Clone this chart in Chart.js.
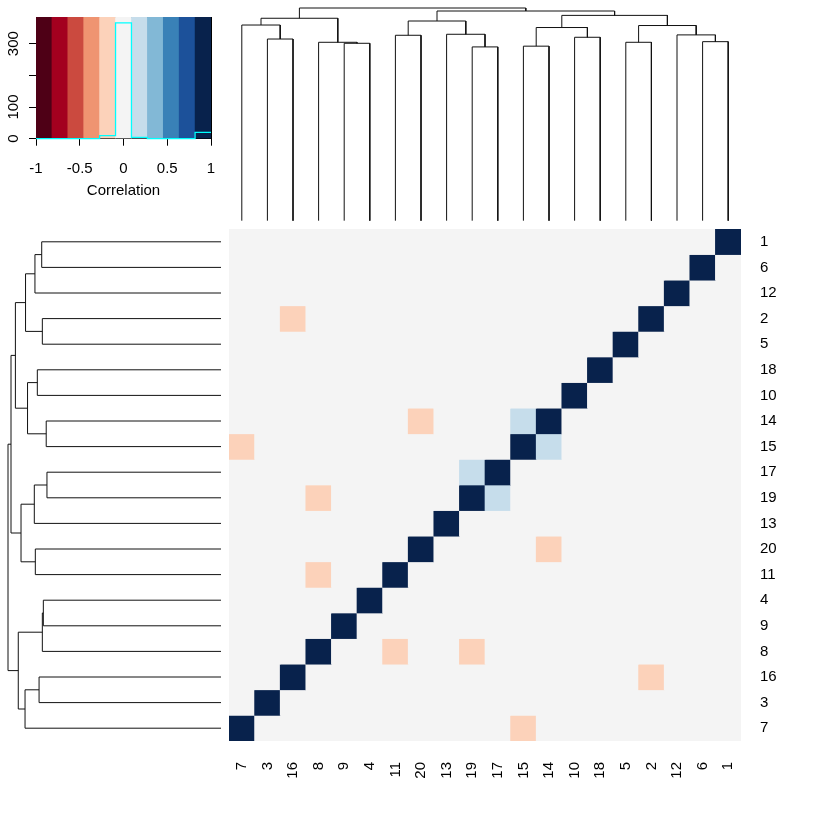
<!DOCTYPE html>
<html><head><meta charset="utf-8">
<script src="https://cdn.jsdelivr.net/npm/chart.js@4.4.0/dist/chart.umd.min.js"></script>
<style>
html,body{margin:0;padding:0;background:#fff;width:840px;height:840px;overflow:hidden}
.box{position:absolute}
</style></head><body>
<div class="box" style="left:0;top:0;width:840px;height:840px"><canvas id="heat"></canvas></div>
<div class="box" style="left:229px;top:0;width:512px;height:222px"><canvas id="colDendro"></canvas></div>
<div class="box" style="left:0;top:229px;width:222px;height:512px"><canvas id="rowDendro"></canvas></div>
<div class="box" style="left:0;top:0;width:225px;height:200px"><canvas id="key"></canvas></div>
<script>
// ---------- data ----------
const colOrder = ['7','3','16','8','9','4','11','20','13','19','17','15','14','10','18','5','2','12','6','1'];
const rowOrder = ['1','6','12','2','5','18','10','14','15','17','19','13','20','11','4','9','8','16','3','7'];

// notable off-diagonal correlations (symmetric); all other off-diagonal cells ~0
const pairFrom = ['2','14','7','8','8','14','17'];
const pairTo   = ['16','20','15','19','11','15','19'];
const pairCorr = [-0.2,-0.2,-0.2,-0.2,-0.2,0.2,0.2];
const diagCorr = 1;
const otherCorr = 0;

// colour key
const keyBreaks = [-1,-0.818,-0.636,-0.455,-0.273,-0.091,0.091,0.273,0.455,0.636,0.818,1];
const keyColors = ['#4E0016','#A3001F','#CB4A3F','#EF9471','#FCD2BA','#F4F4F4','#C6DDEB','#82B8D6','#3981B7','#1C519A','#08224C'];
const histCounts = [0,0,0,0,10,366,4,0,0,0,20];
const keyTicksX = [-1,-0.5,0,0.5,1];
const keyTicksY = [0,100,200,300];
const keyHiddenYLabels = [200];

// hierarchical clustering (hclust style: negative = leaf label, positive = merge step)
const mergeLeft   = [-19,-15,-9,-8,-5,-6,-3,-10,-11,-12,-13, 2, 5,-7, 9,14,12,15,16];
const mergeRight  = [-17,-14,-4, 3,-2,-1,-16,-18,-20, 6, 1, 8,10, 7,11, 4,13,17,18];
const mergeHeight = [1.389,1.395,1.418,1.426,1.426,1.431,1.452,1.466,1.482,1.485,1.490,1.544,1.560,1.564,1.596,1.618,1.641,1.676,1.700];

// ---------- helpers ----------
Chart.defaults.font.family = '"Liberation Sans", Arial, Helvetica, sans-serif';
Chart.defaults.color = '#000';
Chart.defaults.animation = false;
Chart.defaults.plugins.legend.display = false;
Chart.defaults.plugins.tooltip.enabled = false;

function corr(a, b) {
  if (a === b) return diagCorr;
  for (let i = 0; i < pairFrom.length; i++) {
    if ((pairFrom[i] === a && pairTo[i] === b) || (pairFrom[i] === b && pairTo[i] === a)) return pairCorr[i];
  }
  return otherCorr;
}
function colorFor(v) {
  for (let i = 0; i < keyColors.length; i++) {
    if (v <= keyBreaks[i + 1]) return keyColors[i];
  }
  return keyColors[keyColors.length - 1];
}
function nodePos(ref, order) {
  if (ref < 0) return order.indexOf(String(-ref)) + 0.5;
  const j = ref - 1;
  return (nodePos(mergeLeft[j], order) + nodePos(mergeRight[j], order)) / 2;
}
function nodeHeight(ref) { return ref < 0 ? 0 : mergeHeight[ref - 1]; }
function dendroDatasets(order, swap) {
  return mergeHeight.map((h, j) => {
    const pl = nodePos(mergeLeft[j], order), pr = nodePos(mergeRight[j], order);
    const hl = nodeHeight(mergeLeft[j]), hr = nodeHeight(mergeRight[j]);
    const pts = [[pl, hl], [pl, h], [pr, h], [pr, hr]];
    return {
      data: pts.map(([p, v]) => swap ? {x: v, y: p} : {x: p, y: v}),
      showLine: true, borderColor: '#111', borderWidth: 1, pointRadius: 0,
      clip: false, tension: 0, fill: false
    };
  });
}
const maxH = Math.max(...mergeHeight);

// ---------- heatmap ----------
const areaBg = {
  id: 'areaBg',
  beforeDatasetsDraw(chart) {
    const {ctx, chartArea: a} = chart;
    ctx.save(); ctx.fillStyle = keyColors[5];
    ctx.fillRect(a.left, a.top, a.right - a.left, a.bottom - a.top);
    ctx.restore();
  }
};
const labelFont = {size: 15};
new Chart(document.getElementById('heat'), {
  type: 'bar',
  data: {
    labels: colOrder,
    datasets: rowOrder.map(r => ({
      label: r,
      data: colOrder.map(() => 1),
      backgroundColor: colOrder.map(c => colorFor(corr(r, c))),
      borderWidth: 0, barPercentage: 1, categoryPercentage: 1, stack: 's'
    }))
  },
  options: {
    responsive: true, maintainAspectRatio: false,
    layout: {padding: {left: 229, top: 229, right: 0, bottom: 0}},
    scales: {
      x: {type: 'category', stacked: true, offset: true,
          grid: {display: false, drawTicks: false}, border: {display: false},
          ticks: {minRotation: 90, maxRotation: 90, autoSkip: false, padding: 21, font: labelFont},
          afterFit: s => { s.height = 99; }},
      y: {type: 'linear', stacked: true, min: 0, max: 20, reverse: true, display: false},
      yr: {type: 'category', labels: rowOrder, position: 'right', offset: true,
           grid: {display: false, drawTicks: false}, border: {display: false},
           ticks: {autoSkip: false, padding: 19, font: labelFont},
           afterFit: s => { s.width = 99; }}
    }
  },
  plugins: [areaBg]
});

// ---------- column dendrogram ----------
new Chart(document.getElementById('colDendro'), {
  type: 'scatter',
  data: {datasets: dendroDatasets(colOrder, false)},
  options: {
    responsive: true, maintainAspectRatio: false,
    layout: {padding: {top: 8, bottom: 1.3, left: 0, right: 0}},
    scales: {
      x: {type: 'linear', min: 0, max: 20, display: false},
      y: {type: 'linear', min: 0, max: maxH, display: false}
    }
  }
});

// ---------- row dendrogram ----------
new Chart(document.getElementById('rowDendro'), {
  type: 'scatter',
  data: {datasets: dendroDatasets(rowOrder, true)},
  options: {
    responsive: true, maintainAspectRatio: false,
    layout: {padding: {left: 8, right: 1, top: 0, bottom: 0}},
    scales: {
      x: {type: 'linear', min: 0, max: maxH, reverse: true, display: false},
      y: {type: 'linear', min: 0, max: 20, reverse: true, display: false}
    }
  }
});

// ---------- colour key ----------
const keyYMax = Math.max(...histCounts) * 1.05;
const histPoints = histCounts.map((c, i) => ({x: keyBreaks[i], y: c}));
histPoints.push({x: keyBreaks[keyBreaks.length - 1], y: histCounts[histCounts.length - 1]});
const keyBars = keyColors.map((c, i) => ({x: (keyBreaks[i] + keyBreaks[i + 1]) / 2, y: [0, keyYMax]}));
const keyFont = {size: 15};
new Chart(document.getElementById('key'), {
  type: 'bar',
  data: {
    datasets: [
      {type: 'line', data: histPoints, borderColor: '#00FFFF', borderWidth: 1.3, pointRadius: 0,
       stepped: 'before', fill: false, order: 0, clip: false},
      {type: 'bar', data: keyBars, backgroundColor: keyColors, borderWidth: 0,
       barPercentage: 1, categoryPercentage: 1, order: 1}
    ]
  },
  options: {
    responsive: true, maintainAspectRatio: false,
    layout: {padding: {top: 17, right: 14, left: 0, bottom: 0}},
    scales: {
      x: {type: 'linear', min: -1, max: 1, offset: false,
          afterBuildTicks: s => { s.ticks = keyTicksX.map(v => ({value: v})); },
          ticks: {font: keyFont, padding: 14, maxRotation: 0, autoSkip: false,
                  callback: v => String(v)},
          grid: {display: true, drawOnChartArea: false, offset: false, tickLength: 7, color: '#000'},
          border: {display: true, color: '#000', width: 1},
          title: {display: true, text: 'Correlation', font: keyFont, padding: {top: 0, bottom: 0}},
          afterFit: s => { s.height = 61.3; s.paddingLeft = 0; s.paddingRight = 0; }},
      y: {type: 'linear', min: 0, max: keyYMax,
          afterBuildTicks: s => { s.ticks = keyTicksY.map(v => ({value: v})); },
          ticks: {font: keyFont, minRotation: 90, maxRotation: 90,
                  crossAlign: 'center', padding: 3, autoSkip: false,
                  callback: v => (keyHiddenYLabels.includes(v) ? '' : String(v))},
          grid: {display: true, drawOnChartArea: false, tickLength: 7, color: '#000'},
          border: {display: true, color: '#000', width: 1},
          afterFit: s => { s.width = 36; s.paddingTop = 0; s.paddingBottom = 0; }},
      x2: {type: 'linear', position: 'top', ticks: {display: false},
           grid: {display: false, drawTicks: false}, border: {display: true, color: '#000', width: 1},
           afterFit: s => { s.height = 0; }},
      y2: {type: 'linear', position: 'right', ticks: {display: false},
           grid: {display: false, drawTicks: false}, border: {display: true, color: '#000', width: 1},
           afterFit: s => { s.width = 0; }}
    }
  }
});
</script>
</body></html>
